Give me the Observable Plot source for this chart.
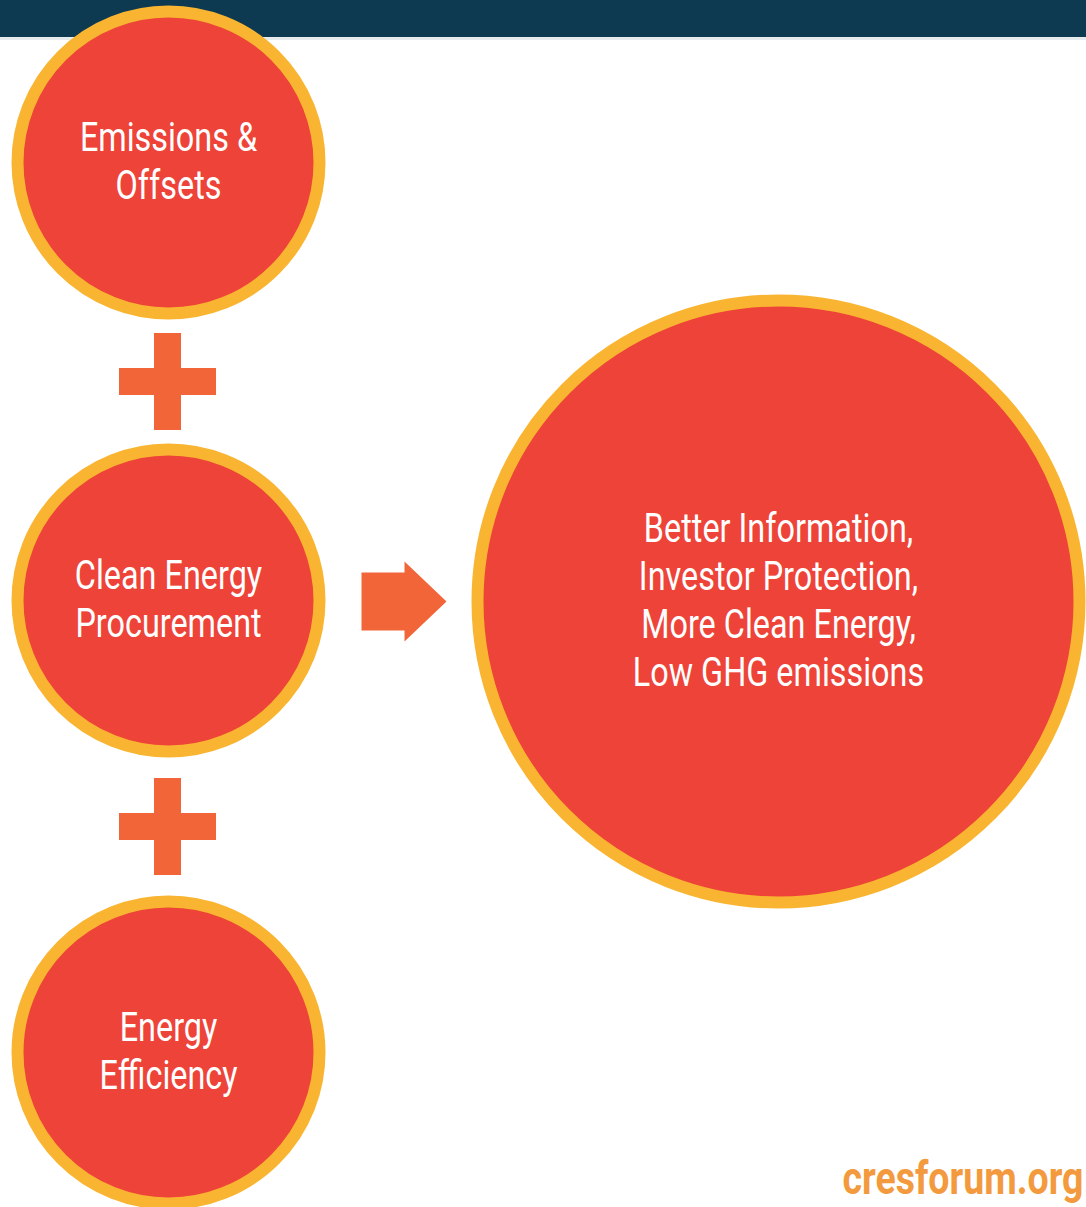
<!DOCTYPE html>
<html>
<head>
<meta charset="utf-8">
<script src="https://cdn.jsdelivr.net/npm/d3@7"></script>
<script src="https://cdn.jsdelivr.net/npm/@observablehq/plot@0.6"></script>
<style>
  html, body { margin: 0; padding: 0; background: #ffffff; }
  #chart svg { display: block; }
</style>
</head>
<body>
<div id="chart"></div>
<script>
// ---- content ----
const inputs = ["Emissions &\nOffsets", "Clean Energy\nProcurement", "Energy\nEfficiency"];
const outcome = ["Better Information,\nInvestor Protection,\nMore Clean Energy,\nLow GHG emissions"];
const operators = ["+", "+"];
const result = ["→"];
const source = ["cresforum.org"];

// ---- layout (pixel space of the 1086×1207 canvas) ----
const W = 1086, H = 1207;
const inputX = [168, 168, 168];
const inputY = [162, 600, 1052];
const inputR = 151;
const outcomeX = [778], outcomeY = [601], outcomeR = 301;
const opX = [167.5, 167.5], opY = [381.5, 826.5];
const arrowX = 403, arrowY = 601;

// ---- styles ----
const NAVY = "#0e3a51", RED = "#ee4338", GOLD = "#f9b531", ORANGE = "#f26539", LOGO = "#f39a3e";
const FONT = "Roboto, 'DejaVu Sans Condensed', sans-serif";

const inputNodes = inputs.map((t, i) => ({label: t, x: inputX[i], y: inputY[i], r: inputR}));
const outcomeNodes = outcome.map((t, i) => ({label: t, x: outcomeX[i], y: outcomeY[i], r: outcomeR}));
const plusData = operators.map((o, i) => ({op: o, x: opX[i], y: opY[i]}));
const arm = 48.5, thick = 13.5;
const arrowShape = [[-42,-29],[1,-29],[1,-40],[43,0],[1,40],[1,29],[-42,29]]
  .map(([dx, dy]) => ({x: arrowX + dx, y: arrowY + dy, op: result[0]}));

const chart = Plot.plot({
  width: W, height: H, margin: 0,
  x: {domain: [0, W], axis: null},
  y: {domain: [0, H], reverse: true, axis: null},
  r: {type: "identity"},
  style: {background: "#ffffff"},
  marks: [
    // header band + soft shadow
    Plot.rect([{a: 0}], {x1: 0, x2: W, y1: 36, y2: 40, fill: "#e6ebee"}),
    Plot.rect([{a: 0}], {x1: 0, x2: W, y1: 0, y2: 37, fill: NAVY}),
    // plus signs
    Plot.rect(plusData, {x1: d => d.x - arm, x2: d => d.x + arm, y1: d => d.y - thick, y2: d => d.y + thick, fill: ORANGE}),
    Plot.rect(plusData, {x1: d => d.x - thick, x2: d => d.x + thick, y1: d => d.y - arm, y2: d => d.y + arm, fill: ORANGE}),
    // arrow
    Plot.line(arrowShape, {x: "x", y: "y", fill: ORANGE, stroke: "none", curve: "linear-closed"}),
    // circles
    Plot.dot(inputNodes, {x: "x", y: "y", r: "r", fill: RED, stroke: GOLD, strokeWidth: 12}),
    Plot.dot(outcomeNodes, {x: "x", y: "y", r: "r", fill: RED, stroke: GOLD, strokeWidth: 12}),
    // labels
    Plot.text(inputNodes, {x: "x", y: "y", text: "label", fill: "white", fontSize: 41, fontWeight: 400,
      fontFamily: FONT, lineHeight: 1.17, lineAnchor: "middle", textAnchor: "middle", dy: -3}),
    Plot.text(outcomeNodes, {x: "x", y: "y", text: "label", fill: "white", fontSize: 41, fontWeight: 400,
      fontFamily: FONT, lineHeight: 1.17, lineAnchor: "middle", textAnchor: "middle", dy: -3}),
    // logo
    Plot.text(source, {x: 842, y: 1193, text: d => d, fill: LOGO, fontSize: 46, fontWeight: 700,
      fontFamily: FONT, textAnchor: "start", lineAnchor: "bottom"})
  ]
});

function squeeze(el, sx) {
  const tr = el.getAttribute("transform") || "";
  const x = el.getAttribute("x"), y = el.getAttribute("y");
  let pre = "";
  if (x != null || y != null) {
    pre = `translate(${x || 0},${y || 0})`;
    el.removeAttribute("x"); el.removeAttribute("y");
  }
  el.setAttribute("transform", `${tr} ${pre} scale(${sx},1)`);
}
d3.select(chart).selectAll("text").each(function () {
  const isLogo = (this.textContent || "").includes(source[0]);
  squeeze(this, isLogo ? 0.815 : 0.79);
});

document.getElementById("chart").appendChild(chart);
</script>
</body>
</html>
